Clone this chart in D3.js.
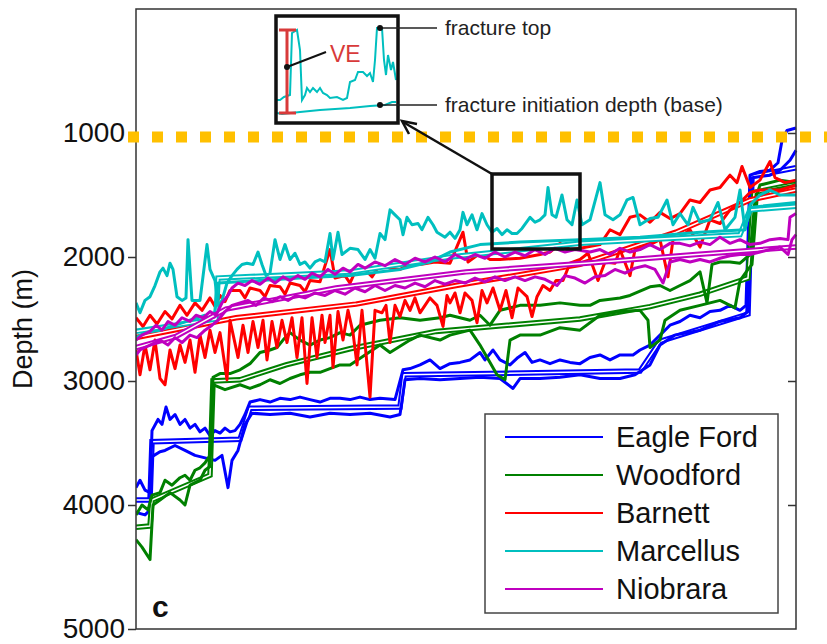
<!DOCTYPE html>
<html>
<head>
<meta charset="utf-8">
<script src="https://cdn.jsdelivr.net/npm/d3@7"></script>
<style>
  html, body { margin: 0; padding: 0; background: #fff; }
  svg { display: block; font-family: 'Liberation Sans', Arial, Helvetica, sans-serif; }
</style>
</head>
<body>
<svg id="chart" width="827" height="644"></svg>
<script>
// wells are ranked along x (0..660), depth in metres
const WELL_COUNT = 660
const MAX_DEPTH = 5000
const PLOT = { left: 136, right: 796, top: 9, bottom: 629 }

const formations = ['Eagle Ford', 'Woodford', 'Barnett', 'Marcellus', 'Niobrara']
const colors = ['#0000ff', '#008000', '#ff0000', '#00bfbf', '#bf00bf']
const depthTicks = [1000, 2000, 3000, 4000, 5000]
const referenceDepth = 1000

// Eagle Ford: fracture top, initiation depth (base), trend
const efTop = [[0,3860],[4,3800],[9,3880],[14,3900],[16,3400],[22,3310],[26,3350],[30,3210],[34,3310],[39,3270],[44,3350],[49,3310],[54,3380],[59,3350],[64,3410],[69,3380],[74,3440],[79,3400],[84,3420],[89,3380],[94,3410],[99,3400],[104,3350],[109,3270],[114,3170],[124,3150],[134,3170],[144,3140],[154,3150],[164,3130],[174,3150],[184,3170],[194,3140],[204,3140],[214,3150],[224,3130],[234,3150],[244,3140],[259,3150],[267,2910],[274,2900],[284,2870],[294,2830],[304,2900],[314,2860],[324,2850],[334,2830],[344,2770],[349,2830],[357,2750],[364,2830],[374,2870],[382,2810],[389,2770],[396,2850],[404,2830],[414,2860],[424,2830],[434,2850],[444,2860],[454,2810],[464,2790],[474,2830],[484,2790],[497,2790],[504,2750],[514,2710],[524,2630],[534,2550],[544,2520],[554,2470],[564,2490],[574,2440],[584,2430],[594,2390],[604,2430],[610,2390],[614,1340],[624,1310],[634,1300],[642,1240],[646,1060],[651,980],[660,960]]
const efBase = [[0,4060],[9,4080],[14,4040],[16,3610],[24,3570],[29,3560],[39,3520],[49,3560],[59,3600],[69,3620],[79,3640],[86,3600],[92,3860],[96,3640],[102,3560],[109,3350],[116,3260],[134,3270],[154,3260],[174,3290],[194,3260],[214,3270],[234,3260],[254,3290],[264,3270],[269,2990],[284,2980],[304,2990],[324,2980],[344,2970],[364,2980],[377,3060],[384,2980],[404,2980],[424,2970],[444,2950],[464,2980],[484,2980],[499,2950],[514,2870],[524,2710],[539,2630],[564,2590],[584,2520],[604,2490],[612,2440],[616,1360],[634,1340],[644,1300],[654,1220],[660,1140]]
const efTrend = [[0,3960],[14,3960],[16,3490],[104,3470],[114,3220],[264,3210],[268,2950],[504,2920],[524,2680],[612,2460],[616,1350],[660,1280]]

// Woodford
const wfTop = [[0,4080],[6,4000],[12,4040],[16,3920],[24,3900],[29,3800],[36,3840],[44,3780],[49,3760],[54,3800],[59,3720],[64,3700],[69,3660],[74,3600],[77,2970],[84,2940],[94,2940],[104,2910],[114,2860],[124,2770],[134,2750],[141,2730],[147,2670],[154,2610],[164,2670],[174,2710],[184,2670],[194,2650],[204,2610],[214,2630],[224,2550],[244,2510],[264,2490],[284,2510],[304,2490],[314,2470],[324,2490],[334,2510],[344,2470],[354,2550],[364,2430],[384,2390],[404,2390],[424,2370],[444,2390],[454,2390],[464,2350],[484,2330],[494,2310],[514,2240],[524,2230],[534,2270],[544,2230],[554,2190],[564,2120],[571,2370],[576,2060],[584,2040],[594,2040],[604,2050],[614,1980],[619,1540],[624,1420],[644,1380],[660,1400]]
const wfBase = [[0,4280],[6,4340],[14,4440],[17,4000],[24,3960],[34,3900],[44,3960],[49,4000],[54,3840],[64,3800],[69,3720],[74,3690],[77,3030],[89,3070],[104,3030],[114,3060],[124,3030],[134,2990],[144,3020],[154,2980],[164,2950],[174,2930],[184,2930],[194,2900],[204,2870],[214,2870],[229,2790],[244,2710],[254,2770],[274,2670],[284,2630],[304,2670],[314,2630],[334,2590],[344,2710],[361,2950],[369,2990],[374,2670],[384,2630],[404,2630],[424,2570],[444,2590],[464,2470],[484,2440],[504,2430],[512,2510],[514,2730],[524,2670],[529,2510],[544,2430],[564,2390],[584,2350],[599,2410],[604,2190],[612,2100],[616,2060],[621,1540],[634,1460],[660,1420]]
const wfTrend = [[0,4180],[14,4170],[16,3960],[74,3760],[77,3000],[104,2990],[150,2870],[214,2740],[300,2600],[444,2500],[514,2400],[564,2300],[612,2170],[618,1480],[660,1410]]

// Barnett
const bnTop = [[0,2490],[7,2560],[14,2470],[21,2540],[29,2440],[36,2500],[44,2390],[51,2470],[59,2370],[66,2430],[74,2330],[79,2400],[84,2310],[89,2360],[94,2270],[104,2270],[109,2330],[114,2250],[124,2270],[129,2320],[134,2230],[144,2240],[149,2300],[154,2210],[164,2230],[169,2280],[174,2190],[184,2200],[194,1940],[199,2170],[209,2150],[214,2210],[219,2120],[229,2100],[236,2160],[244,2060],[254,2090],[264,2100],[274,2060],[284,2060],[299,2040],[314,2050],[327,1800],[332,2040],[344,1970],[354,2020],[364,2020],[384,2010],[404,1980],[414,1960],[424,1890],[434,1940],[444,1930],[464,1900],[474,1780],[484,1820],[494,1680],[504,1660],[514,1720],[524,1640],[534,1690],[544,1650],[554,1540],[564,1560],[574,1460],[584,1440],[594,1340],[601,1400],[606,1270],[614,1440],[624,1380],[634,1230],[639,1360],[649,1400],[660,1380]]
const bnBase = [[0,2750],[4,2950],[9,2710],[14,2910],[19,2670],[24,2980],[29,3030],[34,2750],[39,2900],[44,2710],[49,2850],[54,2670],[59,2930],[64,2630],[69,2810],[74,2590],[79,2770],[84,2610],[91,2990],[94,2510],[102,2810],[107,2550],[112,2770],[117,2520],[122,2730],[127,2510],[131,2830],[136,2520],[141,2730],[146,2510],[151,2690],[156,2490],[161,2810],[166,2490],[171,3020],[176,2490],[181,2810],[186,2470],[189,2690],[194,2470],[197,2890],[202,2440],[207,2670],[212,2430],[217,2610],[221,2870],[226,2430],[234,3130],[239,2430],[246,2450],[250,2390],[254,2690],[259,2390],[264,2480],[269,2350],[274,2430],[279,2330],[284,2450],[294,2330],[301,2390],[307,2560],[311,2310],[314,2370],[319,2290],[324,2450],[329,2290],[336,2350],[341,2530],[346,2270],[351,2370],[357,2250],[364,2430],[370,2270],[376,2490],[382,2250],[391,2320],[396,2480],[401,2320],[407,2230],[414,2270],[420,2190],[427,2190],[434,2050],[444,2020],[452,1970],[462,2190],[469,2040],[479,2050],[484,1940],[494,2150],[499,1940],[504,1920],[514,1900],[524,1860],[532,2160],[537,1860],[544,1840],[554,1780],[564,1920],[574,1700],[584,1730],[594,1620],[604,1560],[614,1480],[624,1460],[644,1460],[660,1420]]
const bnTrend = [[0,2650],[100,2490],[220,2380],[320,2230],[444,2060],[540,1800],[614,1540],[660,1460]]

// Marcellus
const mcTop = [[0,2370],[4,2450],[9,2350],[14,2320],[19,2230],[24,2120],[27,2090],[31,2150],[34,2050],[37,2100],[41,2320],[46,2350],[50,2330],[52,1860],[56,2350],[64,2350],[71,1900],[74,2100],[79,2190],[82,2390],[86,2350],[91,2210],[96,2150],[101,2100],[106,2060],[111,2050],[117,2060],[122,1960],[126,2060],[130,2150],[134,2130],[139,1860],[144,2020],[149,1900],[154,2020],[159,1970],[164,2060],[169,2040],[174,2090],[179,2040],[184,2020],[189,2040],[194,1810],[197,2020],[202,1800],[206,1980],[214,1930],[222,1940],[229,2020],[234,1940],[239,2010],[244,1810],[249,1860],[254,1620],[259,1660],[264,1700],[267,1820],[271,1680],[276,1740],[282,1730],[286,1780],[292,1680],[297,1740],[301,1800],[309,1840],[314,1800],[319,1850],[324,1780],[327,1640],[331,1740],[336,1660],[341,1780],[346,1650],[351,1740],[356,1800],[361,1770],[366,1820],[371,1780],[376,1810],[381,1810],[386,1770],[394,1680],[399,1720],[404,1700],[409,1660],[412,1440],[416,1660],[420,1680],[426,1500],[431,1700],[436,1740],[441,1540],[446,1740],[454,1700],[464,1400],[469,1660],[477,1700],[484,1660],[491,1540],[497,1520],[504,1740],[514,1690],[522,1680],[531,1540],[537,1740],[544,1650],[552,1740],[557,1600],[564,1720],[574,1700],[582,1560],[589,1780],[599,1680],[604,1460],[609,1780],[614,1580],[624,1500],[634,1460],[644,1500],[660,1500]]
const mcBase = [[0,2650],[9,2610],[24,2590],[39,2550],[54,2510],[69,2470],[74,2510],[79,2440],[82,2210],[124,2190],[164,2170],[214,2150],[264,2100],[294,2040],[314,1960],[344,1900],[384,1880],[444,1860],[504,1840],[564,1800],[609,1780],[614,1600],[660,1560]]
const mcTrend = [[0,2600],[80,2500],[82,2170],[214,2120],[314,2000],[444,1890],[604,1820],[614,1620],[660,1590]]

// Niobrara
const nbTop = [[0,2670],[6,2630],[14,2600],[20,2550],[26,2590],[32,2520],[39,2550],[46,2490],[54,2520],[60,2470],[67,2490],[74,2440],[80,2470],[86,2370],[92,2310],[96,2250],[102,2210],[109,2230],[116,2190],[124,2220],[132,2170],[139,2210],[147,2160],[154,2190],[162,2150],[169,2180],[176,2130],[184,2160],[192,2100],[199,2140],[207,2090],[214,2120],[222,2060],[229,2090],[239,2040],[249,2070],[259,2020],[269,2060],[279,2010],[289,2040],[299,2000],[309,2040],[319,1980],[329,2020],[339,1980],[349,2010],[359,1960],[369,2000],[379,1960],[389,1990],[399,1940],[409,1980],[419,1930],[429,1960],[439,1940],[454,1960],[464,1940],[474,1980],[484,1930],[494,1960],[504,1940],[514,1900],[524,1940],[534,1890],[544,1890],[554,1910],[564,1880],[574,1900],[584,1840],[594,1890],[604,1860],[614,1900],[624,1890],[634,1860],[644,1850],[652,1860],[654,1680],[660,1650]]
const nbBase = [[0,2790],[4,2750],[9,2730],[14,2710],[19,2690],[24,2670],[32,2710],[39,2650],[46,2690],[54,2630],[61,2650],[69,2590],[76,2550],[82,2510],[89,2440],[96,2390],[104,2370],[112,2350],[120,2390],[128,2330],[136,2360],[144,2320],[152,2350],[160,2310],[169,2330],[179,2290],[189,2310],[199,2270],[209,2300],[219,2250],[229,2280],[239,2230],[249,2270],[259,2230],[269,2250],[279,2210],[289,2240],[299,2190],[309,2220],[319,2190],[329,2210],[339,2170],[349,2200],[359,2160],[369,2190],[379,2160],[389,2190],[399,2160],[409,2180],[421,2230],[429,2150],[439,2170],[449,2210],[459,2160],[469,2150],[479,2100],[489,2130],[499,2090],[509,2070],[519,2100],[527,2210],[534,2040],[544,2020],[554,2040],[564,2020],[574,2040],[584,2010],[594,1990],[604,1980],[614,1980],[624,1960],[634,1940],[644,1920],[652,1980],[656,1860],[660,1820]]
const nbTrend = [[0,2730],[40,2640],[90,2420],[200,2250],[330,2120],[450,2050],[560,1980],[660,1920]]

const tops = [efTop, wfTop, bnTop, mcTop, nbTop]
const bases = [efBase, wfBase, bnBase, mcBase, nbBase]
const trends = [efTrend, wfTrend, bnTrend, mcTrend, nbTrend]

// inset: one Marcellus stretch blown up (local units)
const insetTop = [[0,84],[3,84],[7,81],[13,79],[15,17],[20,14],[23,34],[25,84],[28,79],[30,72],[33,76],[36,72],[40,76],[43,72],[46,77],[50,79],[53,82],[60,81],[66,84],[70,82],[73,66],[78,64],[81,56],[86,56],[90,60],[93,57],[96,66],[98,44],[100,12],[105,12],[107,44],[109,59],[111,39],[114,54],[116,46],[119,64]]
const insetBase = [[0,97],[5,98],[23,96],[43,94],[73,92],[93,90],[108,89],[115,86],[119,86]]
const veBar = [14, 97]

const svg = d3.select('#chart')

const x = d3.scaleLinear().domain([0, WELL_COUNT]).range([PLOT.left, PLOT.right])
const y = d3.scaleLinear().domain([0, MAX_DEPTH]).range([PLOT.top, PLOT.bottom])

svg.append('defs')
  .append('clipPath')
  .attr('id', 'plot-clip')
  .append('rect')
  .attr('x', PLOT.left)
  .attr('y', PLOT.top - 4)
  .attr('width', PLOT.right - PLOT.left + 2)
  .attr('height', PLOT.bottom - PLOT.top + 4)

const line = d3.line().x((d) => x(d[0])).y((d) => y(d[1]))

const series = svg.append('g').attr('clip-path', 'url(#plot-clip)')

formations.forEach((name, i) => {
  const g = series.append('g').attr('class', 'formation')
  if (trends[i]) {
    // thick coloured line with a white core
    g.append('path')
      .datum(trends[i])
      .attr('d', line)
      .attr('fill', 'none')
      .attr('stroke', colors[i])
      .attr('stroke-width', 5.5)
    g.append('path')
      .datum(trends[i])
      .attr('d', line)
      .attr('fill', 'none')
      .attr('stroke', '#fff')
      .attr('stroke-width', 1.5)
  }
  g.append('path')
    .datum(bases[i])
    .attr('d', line)
    .attr('fill', 'none')
    .attr('stroke', colors[i])
    .attr('stroke-width', 3)
    .attr('stroke-linejoin', 'round')
  g.append('path')
    .datum(tops[i])
    .attr('d', line)
    .attr('fill', 'none')
    .attr('stroke', colors[i])
    .attr('stroke-width', 3)
    .attr('stroke-linejoin', 'round')
})

// frame
svg.append('rect')
  .attr('x', PLOT.left)
  .attr('y', PLOT.top)
  .attr('width', PLOT.right - PLOT.left)
  .attr('height', PLOT.bottom - PLOT.top)
  .attr('fill', 'none')
  .attr('stroke', '#333')
  .attr('stroke-width', 1.5)

// left axis
const yAxis = svg.append('g')
  .attr('transform', `translate(${PLOT.left},0)`)
  .call(d3.axisLeft(y).tickValues(depthTicks).tickSize(8).tickPadding(3).tickFormat(d3.format('d')))
yAxis.select('.domain').remove()
yAxis.selectAll('line').attr('stroke', '#333').attr('stroke-width', 1.5)
yAxis.selectAll('text')
  .attr('font-size', 28)
  .attr('font-family', "'Liberation Sans', Arial, sans-serif")
  .attr('fill', '#111')

// right axis, inward ticks only
const yAxisRight = svg.append('g')
  .attr('transform', `translate(${PLOT.right},0)`)
  .call(d3.axisRight(y).tickValues(depthTicks.slice(0, 4)).tickSize(-8).tickFormat(''))
yAxisRight.select('.domain').remove()
yAxisRight.selectAll('line').attr('stroke', '#333').attr('stroke-width', 1.5)

svg.append('text')
  .attr('transform', `translate(32,${(PLOT.top + PLOT.bottom) / 2 + 10}) rotate(-90)`)
  .attr('text-anchor', 'middle')
  .attr('font-size', 27)
  .attr('fill', '#111')
  .text('Depth (m)')

svg.append('text')
  .attr('x', 152)
  .attr('y', 617)
  .attr('font-size', 30)
  .attr('font-weight', 'bold')
  .attr('fill', '#111')
  .text('c')

// dotted 1000 m reference line
svg.append('line')
  .attr('x1', 128)
  .attr('x2', 827)
  .attr('y1', y(referenceDepth) + 4)
  .attr('y2', y(referenceDepth) + 4)
  .attr('stroke', '#ffc000')
  .attr('stroke-width', 11)
  .attr('stroke-dasharray', '11,13')

// zoom box and arrow to the inset
svg.append('rect')
  .attr('x', 492).attr('y', 174)
  .attr('width', 88).attr('height', 75)
  .attr('fill', 'none')
  .attr('stroke', '#111')
  .attr('stroke-width', 3.5)

svg.append('line')
  .attr('x1', 492).attr('y1', 174)
  .attr('x2', 403).attr('y2', 122)
  .attr('stroke', '#111')
  .attr('stroke-width', 2.5)
svg.append('path')
  .attr('d', 'M417,124 L402,121 L409,134')
  .attr('fill', 'none')
  .attr('stroke', '#111')
  .attr('stroke-width', 2.5)

// inset
const ix = d3.scaleLinear().domain([0, 120]).range([277, 397])
const iy = d3.scaleLinear().domain([0, 107]).range([16, 123])
const insetLine = d3.line().x((d) => ix(d[0])).y((d) => iy(d[1]))
const inset = svg.append('g')

inset.append('path').datum(insetBase).attr('d', insetLine)
  .attr('fill', 'none').attr('stroke', colors[3]).attr('stroke-width', 2)
inset.append('path').datum(insetTop).attr('d', insetLine)
  .attr('fill', 'none').attr('stroke', colors[3]).attr('stroke-width', 2)

inset.append('rect')
  .attr('x', 276).attr('y', 16)
  .attr('width', 122).attr('height', 107)
  .attr('fill', 'none')
  .attr('stroke', '#111')
  .attr('stroke-width', 3.5)

const veX = ix(10)
inset.append('path')
  .attr('d', `M${veX - 8},${iy(veBar[0])} H${veX + 9} M${veX},${iy(veBar[0])} V${iy(veBar[1])} M${veX - 8},${iy(veBar[1])} H${veX + 9}`)
  .attr('fill', 'none')
  .attr('stroke', '#d83a3a')
  .attr('stroke-width', 3)
inset.append('line')
  .attr('x1', veX).attr('y1', 67)
  .attr('x2', 326).attr('y2', 52)
  .attr('stroke', '#111').attr('stroke-width', 2)
inset.append('circle').attr('cx', veX).attr('cy', 67).attr('r', 3).attr('fill', '#111')
inset.append('text')
  .attr('x', 330).attr('y', 62)
  .attr('font-size', 23)
  .attr('fill', '#d83a3a')
  .text('VE')

const callouts = [
  { label: 'fracture top', point: [103, 12] },
  { label: 'fracture initiation depth (base)', point: [103, 89] },
]
callouts.forEach((c) => {
  const cx = ix(c.point[0]), cy = iy(c.point[1])
  inset.append('line')
    .attr('x1', cx).attr('y1', cy)
    .attr('x2', 437).attr('y2', cy)
    .attr('stroke', '#222').attr('stroke-width', 1.5)
  inset.append('circle').attr('cx', cx).attr('cy', cy).attr('r', 3).attr('fill', '#111')
  inset.append('text')
    .attr('x', 445).attr('y', cy)
    .attr('dy', '0.33em')
    .attr('font-size', 21)
    .attr('fill', '#222')
    .text(c.label)
})

// legend
const legend = svg.append('g')
legend.append('rect')
  .attr('x', 485).attr('y', 414)
  .attr('width', 293).attr('height', 199)
  .attr('fill', '#fff')
  .attr('stroke', '#444')
  .attr('stroke-width', 1.5)
formations.forEach((name, i) => {
  const ly = 437 + i * 38
  legend.append('line')
    .attr('x1', 505).attr('x2', 603)
    .attr('y1', ly).attr('y2', ly)
    .attr('stroke', colors[i])
    .attr('stroke-width', 1.8)
  legend.append('text')
    .attr('x', 616).attr('y', ly)
    .attr('dy', '0.36em')
    .attr('font-size', 29)
    .attr('fill', '#111')
    .text(name)
})
</script>
</body>
</html>
